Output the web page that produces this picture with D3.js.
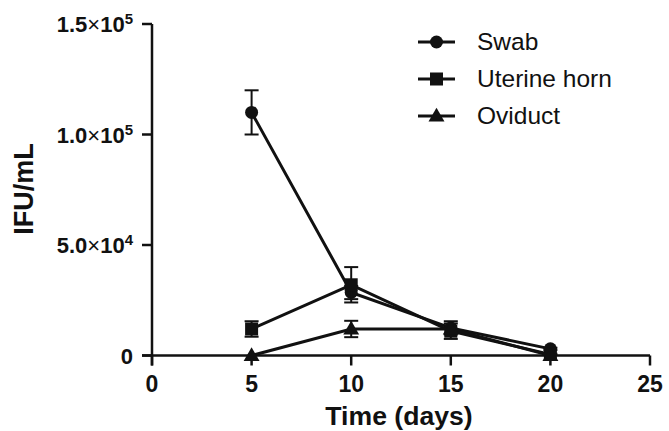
<!DOCTYPE html>
<html><head><meta charset="utf-8">
<script src="https://cdn.jsdelivr.net/npm/d3@7"></script>
<style>body{margin:0;background:#fff;}svg{display:block;font-family:"Liberation Sans",Arial,sans-serif;}</style>
</head><body><div id="chart"></div>
<script>
const days = [5, 10, 15, 20];
const swab = [110000, 28500, 12500, 3000];
const swabErr = [10000, 3000, 3000, 500];
const uterine = [12000, 32000, 11000, 500];
const uterineErr = [3500, 8000, 3500, 300];
const oviduct = [0, 12000, 12000, 0];
const oviductErr = [0, 3700, 0, 0];
const seriesNames = ["Swab", "Uterine horn", "Oviduct"];
const xTicks = [0, 5, 10, 15, 20, 25];
const yTicks = [0, 50000, 100000, 150000];
const yTickLabels = [["0", ""], ["5.0×10", "4"], ["1.0×10", "5"], ["1.5×10", "5"]];

const W = 669, H = 431;
const svg = d3.select("#chart").append("svg").attr("width", W).attr("height", H);
const x = d3.scaleLinear().domain([0, 25]).range([152, 650]);
const y = d3.scaleLinear().domain([0, 150000]).range([355.5, 24]);

// axes
const ax = svg.append("g").attr("stroke", "#111").attr("stroke-width", 2.5);
ax.append("line").attr("x1", 142).attr("x2", x(25)).attr("y1", y(0)).attr("y2", y(0));
ax.append("line").attr("x1", x(0)).attr("x2", x(0)).attr("y1", y(150000)).attr("y2", y(0) + 10);
xTicks.forEach(t => ax.append("line").attr("x1", x(t)).attr("x2", x(t)).attr("y1", y(0)).attr("y2", y(0) + 10));
yTicks.forEach(t => ax.append("line").attr("x1", x(0) - 10).attr("x2", x(0)).attr("y1", y(t)).attr("y2", y(t)));

xTicks.forEach(t => svg.append("text").attr("x", x(t)).attr("y", 392).attr("text-anchor", "middle")
  .attr("font-size", 23).attr("font-weight", "bold").attr("fill", "#111").text(t));

yTicks.forEach((t, i) => {
  const [base, sup] = yTickLabels[i];
  const tx = svg.append("text").attr("x", 133).attr("y", y(t) + 8).attr("text-anchor", "end")
    .attr("font-size", 22).attr("font-weight", "bold").attr("fill", "#111");
  if (sup) {
    const m = base.split("×");
    tx.append("tspan").text(m[0]);
    tx.append("tspan").attr("font-weight", "normal").text("×");
    tx.append("tspan").text("10");
    tx.append("tspan").attr("font-size", 15).attr("dy", -8).text(sup);
  } else tx.text(base);
});

svg.append("text").attr("transform", `translate(33,189) rotate(-90)`).attr("text-anchor", "middle")
  .attr("font-size", 27).attr("font-weight", "bold").attr("fill", "#111").text("IFU/mL");
svg.append("text").attr("x", 399).attr("y", 425).attr("text-anchor", "middle")
  .attr("font-size", 26.6).attr("font-weight", "bold").attr("fill", "#111").text("Time (days)");

const data = [
  {vals: swab, err: swabErr, shape: "circle"},
  {vals: uterine, err: uterineErr, shape: "square"},
  {vals: oviduct, err: oviductErr, shape: "triangle"}
];
const line = d3.line().x(d => x(d[0])).y(d => y(d[1]));
function marker(g, shape, cx, cy) {
  if (shape === "circle") g.append("circle").attr("cx", cx).attr("cy", cy).attr("r", 6.5).attr("fill", "#111");
  else if (shape === "square") g.append("rect").attr("x", cx - 6.5).attr("y", cy - 6.5).attr("width", 13).attr("height", 13).attr("fill", "#111");
  else g.append("path").attr("d", d3.symbol(d3.symbolTriangle, 110)()).attr("transform", `translate(${cx},${cy + 1})`).attr("fill", "#111");
}
data.forEach(s => {
  const g = svg.append("g");
  const pts = days.map((d, i) => [d, s.vals[i]]);
  g.append("path").attr("d", line(pts)).attr("fill", "none").attr("stroke", "#111").attr("stroke-width", 3);
  pts.forEach((p, i) => {
    const e = s.err[i];
    if (e > 0) {
      const cx = x(p[0]), t = y(p[1] + e), b = y(p[1] - e);
      g.append("line").attr("x1", cx).attr("x2", cx).attr("y1", t).attr("y2", b).attr("stroke", "#111").attr("stroke-width", 2);
      [t, b].forEach(yy => g.append("line").attr("x1", cx - 7).attr("x2", cx + 7).attr("y1", yy).attr("y2", yy).attr("stroke", "#111").attr("stroke-width", 2));
    }
    marker(g, s.shape, x(p[0]), y(p[1]));
  });
});

// legend
const shapes = ["circle", "square", "triangle"];
seriesNames.forEach((n, i) => {
  const ly = 42 + i * 37;
  const g = svg.append("g");
  g.append("line").attr("x1", 418).attr("x2", 455).attr("y1", ly).attr("y2", ly).attr("stroke", "#111").attr("stroke-width", 3);
  marker(g, shapes[i], 436.5, ly);
  g.append("text").attr("x", 477).attr("y", ly + 8).attr("font-size", 24.5).attr("fill", "#111").text(n);
});
</script></body></html>
